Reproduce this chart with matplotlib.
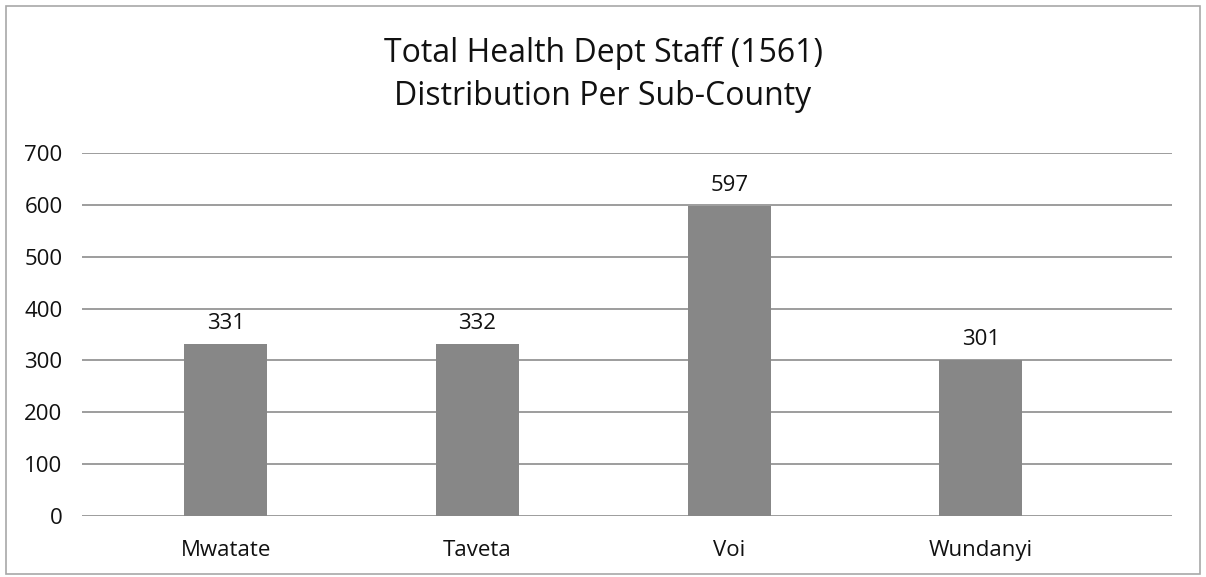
import matplotlib.pyplot as plt
from matplotlib.patches import Rectangle

# data
sub_counties = ['Mwatate', 'Taveta', 'Voi', 'Wundanyi']
staff = [331, 332, 597, 301]
y_ticks = [0, 100, 200, 300, 400, 500, 600, 700]

plt.rcParams['font.family'] = ['Open Sans', 'DejaVu Sans']

fig = plt.figure(figsize=(12.06, 5.77), dpi=100)
fig.patch.set_facecolor('white')
ax = fig.add_axes([0.068, 0.1057, 0.904, 0.629])

x = list(range(len(sub_counties)))
ax.bar(x, staff, width=0.33, color='#878787', zorder=3)

for xi, v in zip(x, staff):
    ax.text(xi, v + 20, str(v), ha='center', va='bottom', fontsize=16, color='#111111')

ax.set_xlim(-0.571, 3.76)
ax.set_ylim(0, 700)
ax.set_yticks(y_ticks)
ax.set_xticks(x)
ax.set_xticklabels(sub_counties)
ax.tick_params(axis='both', length=0, labelsize=16, colors='#111111')
ax.tick_params(axis='y', pad=14)
ax.tick_params(axis='x', pad=17)
ax.grid(axis='y', color='#8c8c8c', linewidth=1.2, zorder=0)
for s in ax.spines.values():
    s.set_visible(False)

fig.text(0.5, 0.87, 'Total Health Dept Staff (1561)\nDistribution Per Sub-County',
         ha='center', va='center', fontsize=23, linespacing=1.4, color='#111111')

# outer chart frame
fig.patches.append(Rectangle((0.005, 0.005), 0.99, 0.985, transform=fig.transFigure,
                             fill=False, edgecolor='#a8a8a8', linewidth=1.2))

fig.savefig('out.png', dpi=100)
